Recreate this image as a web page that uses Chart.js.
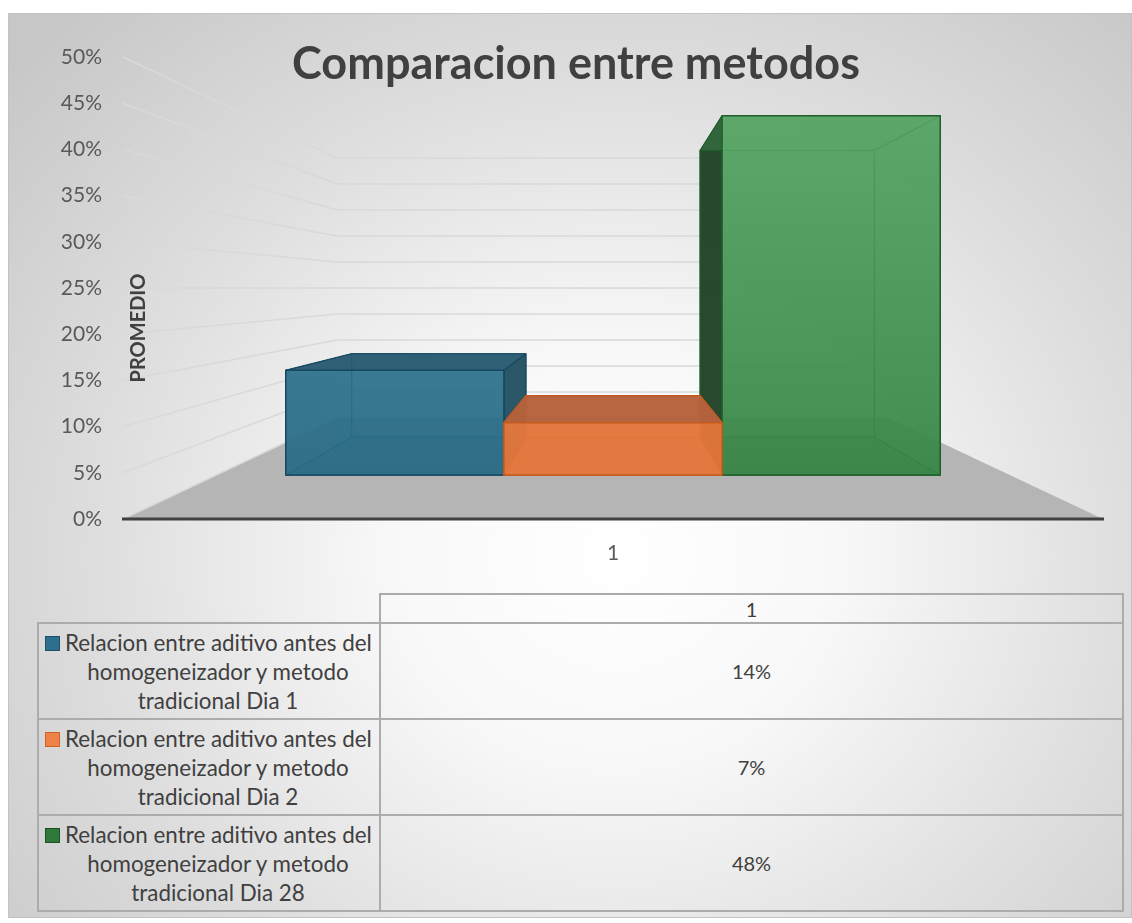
<!DOCTYPE html>
<html>
<head>
<meta charset="utf-8">
<title>Comparacion entre metodos</title>
<script src="https://cdn.jsdelivr.net/npm/chart.js"></script>
<style>
  html, body { margin: 0; padding: 0; background: #fff; }
  #frame {
    position: absolute; left: 8px; top: 13px; width: 1122px; height: 903px;
    border: 1px solid #c3c3c3;
    background: radial-gradient(ellipse 72% 82% at 54% 60%, #ffffff 0%, #f8f8f8 28%, #dedede 64%, #c7c7c7 100%);
    font-family: Lato, sans-serif; color: #404040;
  }
  #plot { position: absolute; left: 0; top: 0; width: 1122px; height: 570px; }
  #datatable {
    position: absolute; left: 28px; top: 579px;
    border-collapse: collapse; font-size: 20px; color: #404040;
  }
  #datatable td { border: 2px solid #acacac; padding: 0; text-align: center; vertical-align: middle; }
  #datatable td.blank { border-top: none; border-left: none; }
  #datatable tr.head td { height: 27px; }
  #datatable tr.row td { height: 94px; }
  .lg { display: flex; align-items: flex-start; padding-left: 6px; }
  .key { width: 13px; height: 13px; border: 1px solid; margin-top: 8px; flex: none; }
  .tx { width: 306px; margin-left: 5px; font-size: 22.4px; line-height: 29px; text-align: center; white-space: nowrap; }
</style>
</head>
<body>
<div id="frame">
  <div id="plot"><canvas id="chart"></canvas></div>
  <table id="datatable"></table>
</div>
<script>
// values
const chartTitle = 'Comparacion entre metodos';
const axisTitle = 'PROMEDIO';
const categories = ['1'];
const seriesLines = [
  ['Relacion entre aditivo antes del', 'homogeneizador y metodo', 'tradicional Dia 1'],
  ['Relacion entre aditivo antes del', 'homogeneizador y metodo', 'tradicional Dia 2'],
  ['Relacion entre aditivo antes del', 'homogeneizador y metodo', 'tradicional Dia 28']
];
const seriesValues = [0.14, 0.07, 0.48];
const yMax = 0.5;
const yStep = 0.05;

// colours
const keyFill = ['#2f6f8e', '#ee8148', '#2f7a3a'];
const keyLine = ['#1f4f66', '#cf6229', '#1d5025'];
const boxStyles = [
  { front: ['rgba(46,114,140,0.9)', 'rgba(42,108,134,0.9)'], back: 'rgba(40,100,128,0.45)', bottom: 'rgba(30,80,105,0.55)',
    side: 'rgba(38,82,100,0.95)', top: 'rgba(42,92,114,0.95)', edge: 'rgba(22,72,96,0.95)' },
  { front: ['rgba(232,120,60,0.9)', 'rgba(230,118,58,0.9)'], back: 'rgba(210,110,60,0.45)', bottom: 'rgba(200,100,52,0.5)',
    side: 'rgba(170,88,50,0.95)', top: 'rgba(180,98,60,0.95)', edge: 'rgba(196,90,28,0.95)' },
  { front: ['rgba(86,164,100,0.9)', 'rgba(56,134,70,0.9)'], back: 'rgba(60,140,76,0.4)', bottom: 'rgba(40,110,55,0.55)',
    side: 'rgba(30,62,36,0.92)', top: 'rgba(40,100,52,0.9)', edge: 'rgba(30,94,43,0.95)' }
];

// perspective: scale of each depth plane towards the centre of the plot area
const WALL_DEPTH = 0.563;
const BAR_FRONT = 0.81;
const BAR_BACK = 0.647;

const pct = v => Math.round(v * 100) + '%';

function poly(ctx, pts) {
  ctx.beginPath();
  ctx.moveTo(pts[0][0], pts[0][1]);
  for (let k = 1; k < pts.length; k++) ctx.lineTo(pts[k][0], pts[k][1]);
  ctx.closePath();
}

function projector(ca) {
  const cx = (ca.left + ca.right) / 2, cy = (ca.top + ca.bottom) / 2;
  return { cx, cy, p: (x, y, s) => [cx + (x - cx) * s, cy + (y - cy) * s] };
}

function drawBox(ctx, bx, st, pr) {
  const F = (x, y) => pr.p(x, y, BAR_FRONT);
  const B = (x, y) => pr.p(x, y, BAR_BACK);
  const { l, r, t, b } = bx;
  const showLeft = l > pr.cx, showRight = r < pr.cx, showTop = t > pr.cy;
  const faces = [
    [[B(l, t), B(r, t), B(r, b), B(l, b)], st.back],
    [[F(l, b), F(r, b), B(r, b), B(l, b)], st.bottom],
    [[F(l, t), B(l, t), B(l, b), F(l, b)], showLeft ? st.side : st.back],
    [[F(r, t), B(r, t), B(r, b), F(r, b)], showRight ? st.side : st.back],
    [[F(l, t), F(r, t), B(r, t), B(l, t)], showTop ? st.top : st.back]
  ];
  ctx.lineJoin = 'round';
  ctx.strokeStyle = st.edge;
  ctx.lineWidth = 1.2;
  faces.forEach(([pts, fill]) => {
    poly(ctx, pts);
    ctx.fillStyle = fill;
    ctx.fill();
    ctx.stroke();
  });
  const front = [F(l, t), F(r, t), F(r, b), F(l, b)];
  const g = ctx.createLinearGradient(0, front[0][1], 0, front[3][1]);
  g.addColorStop(0, st.front[0]);
  g.addColorStop(1, st.front[1]);
  poly(ctx, front);
  ctx.fillStyle = g;
  ctx.fill();
  ctx.lineWidth = 1.5;
  ctx.stroke();
}

// floor, walls, 3D columns and overlay text
const scene3d = {
  id: 'scene3d',
  beforeDatasetsDraw(chart) {
    const { ctx, chartArea: ca, scales: { y } } = chart;
    const pr = projector(ca);
    ctx.save();
    poly(ctx, [pr.p(ca.left, ca.bottom, 1), pr.p(ca.left, ca.bottom, WALL_DEPTH),
               pr.p(ca.right, ca.bottom, WALL_DEPTH), pr.p(ca.right, ca.bottom, 1)]);
    ctx.fillStyle = '#b5b5b5';
    ctx.fill();

    ctx.strokeStyle = '#d9d9d9';
    ctx.lineWidth = 1.5;
    y.ticks.forEach(tk => {
      const py = y.getPixelForValue(tk.value);
      const a = pr.p(ca.left, py, 1), b = pr.p(ca.left, py, WALL_DEPTH), c = pr.p(ca.right, py, WALL_DEPTH);
      ctx.beginPath();
      ctx.moveTo(a[0], a[1]);
      ctx.lineTo(b[0], b[1]);
      ctx.lineTo(c[0], c[1]);
      ctx.stroke();
    });

    ctx.strokeStyle = '#404040';
    ctx.lineWidth = 3;
    ctx.beginPath();
    ctx.moveTo(ca.left - 1, ca.bottom);
    ctx.lineTo(ca.right + 1, ca.bottom);
    ctx.stroke();
    ctx.restore();
  },
  afterDatasetsDraw(chart) {
    const { ctx, chartArea: ca } = chart;
    const pr = projector(ca);
    const boxes = chart.data.datasets.map((ds, i) => {
      const el = chart.getDatasetMeta(i).data[0];
      const { x, y, base, width } = el.getProps(['x', 'y', 'base', 'width'], true);
      return { i, c: x, l: x - width / 2, r: x + width / 2, t: y, b: base };
    });
    // outer columns first, the one nearest the centre last
    boxes.sort((m, n) => Math.abs(n.c - pr.cx) - Math.abs(m.c - pr.cx));
    ctx.save();
    boxes.forEach(bx => drawBox(ctx, bx, boxStyles[bx.i], pr));
    ctx.restore();
  },
  afterDraw(chart) {
    const { ctx } = chart;
    ctx.save();
    ctx.fillStyle = '#404040';
    ctx.textAlign = 'center';
    ctx.textBaseline = 'alphabetic';
    ctx.font = 'bold 45px Lato';
    ctx.fillText(chartTitle, 567, 65);
    ctx.translate(130, 314);
    ctx.rotate(-Math.PI / 2);
    ctx.textBaseline = 'middle';
    ctx.font = 'bold 20px Lato';
    ctx.fillText(axisTitle, 0, 0);
    ctx.restore();
  }
};

new Chart(document.getElementById('chart'), {
  type: 'bar',
  data: {
    labels: categories,
    datasets: seriesValues.map((v, i) => ({
      label: seriesLines[i].join(' '),
      data: [v],
      backgroundColor: 'rgba(0,0,0,0)',
      borderWidth: 0,
      categoryPercentage: 0.8245,
      barPercentage: 1
    }))
  },
  options: {
    responsive: true,
    maintainAspectRatio: false,
    animation: false,
    layout: { padding: { top: 43, right: 28, left: 0, bottom: 0 } },
    plugins: { legend: { display: false }, tooltip: { enabled: false } },
    scales: {
      y: {
        min: 0, max: yMax,
        ticks: { stepSize: yStep, callback: pct, color: '#595959', font: { family: 'Lato', size: 21 }, padding: 21 },
        grid: { display: false, drawTicks: false },
        border: { display: false },
        afterFit(s) { s.width = 114; }
      },
      x: {
        ticks: { color: '#595959', font: { family: 'Lato', size: 21 }, padding: 22 },
        grid: { display: false, drawTicks: false },
        border: { display: false },
        afterFit(s) { s.height = 65; }
      }
    }
  },
  plugins: [scene3d]
});

// data table under the plot
const table = document.getElementById('datatable');
let html = '<colgroup><col style="width:342px"><col style="width:743px"></colgroup>';
html += '<tr class="head"><td class="blank"></td>' + categories.map(c => '<td>' + c + '</td>').join('') + '</tr>';
seriesLines.forEach((lines, i) => {
  html += '<tr class="row"><td><div class="lg"><span class="key" style="background:' + keyFill[i] +
    ';border-color:' + keyLine[i] + '"></span><span class="tx">' + lines.join('<br>') + '</span></div></td>' +
    '<td>' + pct(seriesValues[i]) + '</td></tr>';
});
table.innerHTML = html;
</script>
</body>
</html>
